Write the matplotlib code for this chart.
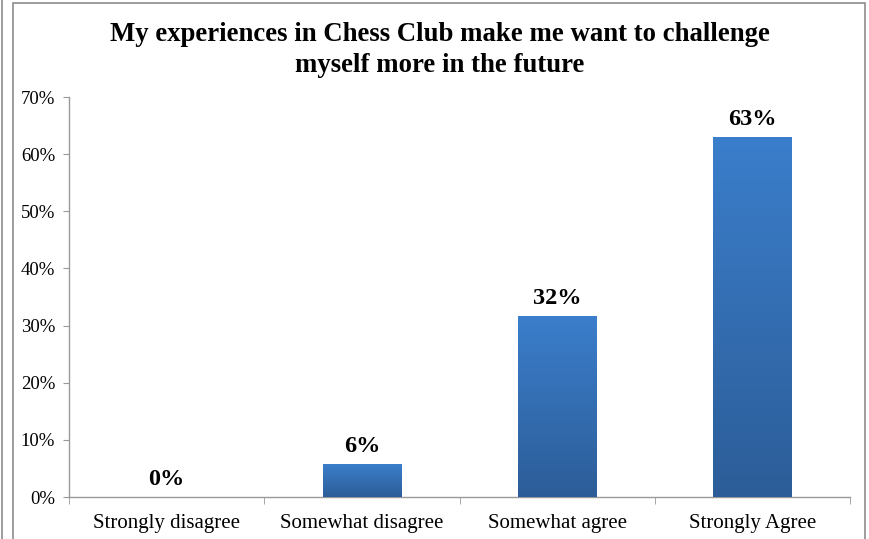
import numpy as np
import matplotlib
matplotlib.use('Agg')
import matplotlib.pyplot as plt
from matplotlib.ticker import FuncFormatter
from matplotlib.patches import Rectangle
from matplotlib.lines import Line2D

categories = ['Strongly disagree', 'Somewhat disagree', 'Somewhat agree', 'Strongly Agree']
shares = [0.0, 0.057, 0.316, 0.630]
title = 'My experiences in Chess Club make me want to challenge\nmyself more in the future'

plt.rcParams['font.family'] = ['Liberation Serif', 'DejaVu Serif']

fig = plt.figure(figsize=(8.69, 5.39), dpi=100)
W, H = 869, 539
ax = fig.add_axes([69 / W, 1 - 497 / H, (850 - 69) / W, 400 / H])

x = np.arange(len(categories))
bars = ax.bar(x, shares, width=0.4, color='none', edgecolor='none', zorder=2)

# vertical gradient inside each bar
grad = np.linspace(0, 1, 256).reshape(-1, 1)
cmap = matplotlib.colors.LinearSegmentedColormap.from_list('g', ['#2c5d98', '#3b7ecb'])
for b in bars:
    if b.get_height() <= 0:
        continue
    x0, w, h = b.get_x(), b.get_width(), b.get_height()
    im = ax.imshow(grad, cmap=cmap, aspect='auto', origin='lower',
                   extent=[x0, x0 + w, 0, h], zorder=3)
    im.set_clip_path(b)

for i, v in enumerate(shares):
    ax.text(i, v + 0.013, '%d%%' % round(v * 100), ha='center', va='bottom',
            fontsize=17.5, fontweight='bold', color='black', zorder=4)

ax.set_xlim(-0.5, len(categories) - 0.5)
ax.set_ylim(0, 0.70)
ax.set_yticks(np.arange(0, 0.71, 0.1))
ax.yaxis.set_major_formatter(FuncFormatter(lambda t, p: '%d%%' % round(t * 100)))
ax.set_xticks(x)
ax.set_xticklabels(categories)
ax.set_xticks(np.arange(-0.5, len(categories), 1), minor=True)
ax.tick_params(axis='x', which='major', length=0, pad=12, labelsize=15)
ax.tick_params(axis='x', which='minor', length=5, color='#999999', direction='out')
ax.tick_params(axis='y', length=4, color='#999999', labelsize=13.5, pad=6)

for s in ['top', 'right']:
    ax.spines[s].set_visible(False)
for s in ['left', 'bottom']:
    ax.spines[s].set_color('#999999')
    ax.spines[s].set_linewidth(1.0)

fig.text(440 / W, 1 - 22 / H, title, ha='center', va='top', fontsize=19.3,
         fontweight='bold', linespacing=1.3)

# chart frame and neighbouring frame edge
fig.add_artist(Rectangle((13 / W, -0.02), (865 - 13) / W, 1.02 - 3 / H,
                         transform=fig.transFigure, fill=False,
                         edgecolor='#8c8c8c', linewidth=1.2))
fig.add_artist(Line2D([2 / W, 2 / W], [0, 1], transform=fig.transFigure,
                      color='#8c8c8c', linewidth=1.2))

fig.savefig('out.png', dpi=100)
